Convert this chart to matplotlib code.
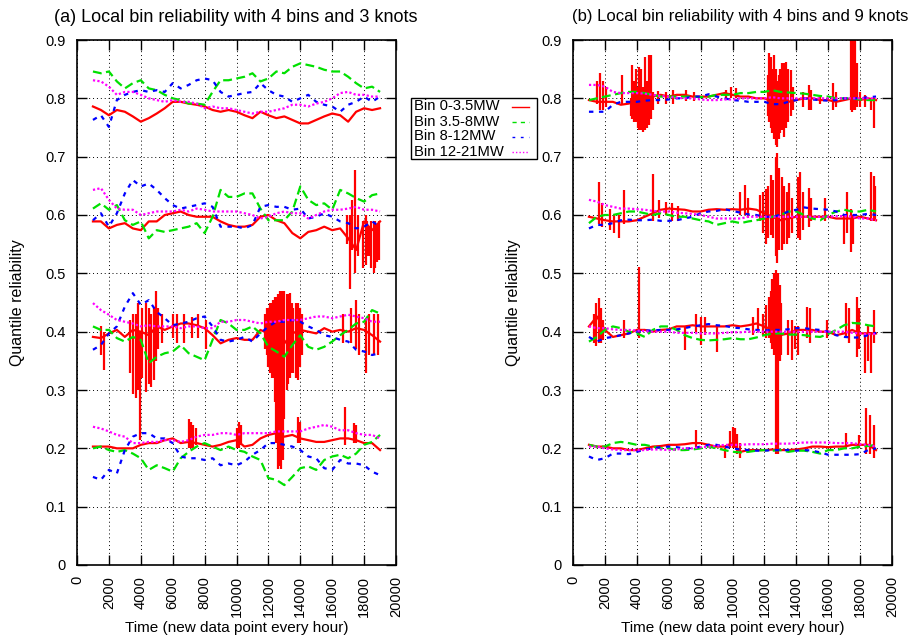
import numpy as np
import matplotlib
matplotlib.use("Agg")
import matplotlib.pyplot as plt
from matplotlib.lines import Line2D
from matplotlib.patches import Rectangle

plt.rcParams['font.family'] = ['Liberation Sans', 'DejaVu Sans']
plt.rcParams['font.size'] = 10.5

# sample times (hours) for the running reliability curves
hours = np.arange(1000, 19001, 500)

# ---- panel (a): 4 bins, 3 knots ----
a_red_80 = [0.786, 0.780, 0.771, 0.780, 0.777, 0.769, 0.760, 0.766, 0.774, 0.783, 0.794, 0.794, 0.791, 0.789, 0.786, 0.780, 0.777, 0.780, 0.777, 0.771, 0.766, 0.777, 0.771, 0.766, 0.769, 0.763, 0.757, 0.757, 0.763, 0.769, 0.774, 0.771, 0.760, 0.777, 0.783, 0.780, 0.783]
a_grn_80 = [0.846, 0.843, 0.846, 0.829, 0.817, 0.826, 0.831, 0.817, 0.814, 0.806, 0.800, 0.797, 0.791, 0.791, 0.789, 0.811, 0.831, 0.831, 0.834, 0.837, 0.843, 0.829, 0.834, 0.846, 0.843, 0.854, 0.860, 0.857, 0.854, 0.849, 0.846, 0.846, 0.837, 0.826, 0.817, 0.820, 0.811]
a_blu_80 = [0.763, 0.771, 0.751, 0.797, 0.806, 0.811, 0.814, 0.811, 0.814, 0.811, 0.826, 0.817, 0.823, 0.831, 0.834, 0.831, 0.811, 0.803, 0.806, 0.809, 0.811, 0.826, 0.814, 0.806, 0.803, 0.794, 0.800, 0.806, 0.794, 0.789, 0.786, 0.777, 0.789, 0.794, 0.803, 0.794, 0.803]
a_mag_80 = [0.831, 0.829, 0.820, 0.806, 0.811, 0.811, 0.806, 0.800, 0.797, 0.794, 0.797, 0.794, 0.794, 0.791, 0.783, 0.786, 0.783, 0.783, 0.780, 0.777, 0.774, 0.777, 0.777, 0.780, 0.783, 0.789, 0.789, 0.786, 0.791, 0.794, 0.800, 0.809, 0.811, 0.806, 0.806, 0.803, 0.803]

a_red_60 = [0.589, 0.589, 0.577, 0.583, 0.586, 0.577, 0.574, 0.589, 0.589, 0.600, 0.603, 0.606, 0.600, 0.597, 0.597, 0.597, 0.589, 0.583, 0.580, 0.580, 0.583, 0.597, 0.600, 0.591, 0.586, 0.569, 0.560, 0.571, 0.574, 0.580, 0.574, 0.577, 0.560, 0.540, 0.589, 0.574, 0.589]
a_grn_60 = [0.611, 0.620, 0.609, 0.617, 0.591, 0.583, 0.589, 0.560, 0.574, 0.571, 0.574, 0.577, 0.580, 0.586, 0.569, 0.597, 0.643, 0.631, 0.631, 0.637, 0.637, 0.611, 0.591, 0.591, 0.591, 0.606, 0.649, 0.626, 0.617, 0.620, 0.609, 0.643, 0.637, 0.629, 0.623, 0.634, 0.637]
a_blu_60 = [0.591, 0.603, 0.580, 0.603, 0.637, 0.660, 0.649, 0.654, 0.643, 0.629, 0.617, 0.611, 0.614, 0.617, 0.620, 0.614, 0.580, 0.580, 0.580, 0.577, 0.583, 0.614, 0.617, 0.614, 0.614, 0.609, 0.611, 0.594, 0.597, 0.603, 0.597, 0.589, 0.586, 0.577, 0.580, 0.589, 0.580]
a_mag_60 = [0.643, 0.646, 0.626, 0.611, 0.609, 0.609, 0.600, 0.603, 0.606, 0.606, 0.606, 0.609, 0.606, 0.611, 0.609, 0.606, 0.606, 0.606, 0.606, 0.603, 0.600, 0.594, 0.597, 0.603, 0.606, 0.603, 0.603, 0.594, 0.600, 0.606, 0.609, 0.609, 0.611, 0.614, 0.609, 0.609, 0.606]

a_red_40 = [0.391, 0.389, 0.397, 0.403, 0.391, 0.403, 0.400, 0.394, 0.409, 0.403, 0.409, 0.414, 0.414, 0.411, 0.406, 0.394, 0.380, 0.386, 0.389, 0.386, 0.386, 0.403, 0.397, 0.389, 0.380, 0.397, 0.403, 0.400, 0.397, 0.406, 0.400, 0.403, 0.400, 0.406, 0.403, 0.394, 0.383]
a_grn_40 = [0.409, 0.403, 0.403, 0.389, 0.383, 0.391, 0.386, 0.346, 0.357, 0.363, 0.366, 0.377, 0.363, 0.357, 0.351, 0.386, 0.420, 0.414, 0.403, 0.403, 0.409, 0.397, 0.374, 0.366, 0.357, 0.377, 0.394, 0.374, 0.369, 0.374, 0.383, 0.394, 0.403, 0.414, 0.417, 0.437, 0.431]
a_blu_40 = [0.369, 0.377, 0.397, 0.409, 0.443, 0.466, 0.446, 0.454, 0.434, 0.423, 0.411, 0.414, 0.417, 0.423, 0.426, 0.409, 0.386, 0.383, 0.386, 0.391, 0.383, 0.397, 0.409, 0.417, 0.417, 0.420, 0.417, 0.409, 0.403, 0.394, 0.391, 0.386, 0.383, 0.369, 0.366, 0.360, 0.363]
a_mag_40 = [0.449, 0.437, 0.429, 0.420, 0.417, 0.414, 0.409, 0.411, 0.409, 0.409, 0.409, 0.406, 0.409, 0.409, 0.406, 0.406, 0.417, 0.417, 0.420, 0.420, 0.417, 0.414, 0.417, 0.417, 0.420, 0.420, 0.420, 0.423, 0.426, 0.426, 0.423, 0.426, 0.429, 0.426, 0.423, 0.417, 0.417]

a_red_20 = [0.203, 0.203, 0.203, 0.200, 0.200, 0.200, 0.206, 0.209, 0.209, 0.214, 0.217, 0.209, 0.211, 0.209, 0.206, 0.203, 0.206, 0.211, 0.214, 0.203, 0.206, 0.217, 0.223, 0.226, 0.220, 0.223, 0.217, 0.214, 0.211, 0.211, 0.214, 0.217, 0.217, 0.214, 0.209, 0.209, 0.197]
a_grn_20 = [0.200, 0.203, 0.197, 0.194, 0.197, 0.191, 0.183, 0.163, 0.171, 0.166, 0.160, 0.183, 0.194, 0.203, 0.209, 0.203, 0.197, 0.203, 0.197, 0.194, 0.186, 0.180, 0.149, 0.146, 0.137, 0.151, 0.166, 0.169, 0.163, 0.180, 0.186, 0.189, 0.183, 0.191, 0.206, 0.211, 0.223]
a_blu_20 = [0.151, 0.146, 0.163, 0.157, 0.197, 0.220, 0.226, 0.226, 0.217, 0.217, 0.209, 0.186, 0.183, 0.183, 0.180, 0.183, 0.171, 0.174, 0.171, 0.177, 0.189, 0.197, 0.209, 0.209, 0.206, 0.203, 0.197, 0.186, 0.183, 0.166, 0.163, 0.180, 0.174, 0.174, 0.171, 0.160, 0.154]
a_mag_20 = [0.237, 0.234, 0.229, 0.223, 0.220, 0.209, 0.209, 0.211, 0.211, 0.214, 0.214, 0.211, 0.214, 0.220, 0.223, 0.223, 0.226, 0.226, 0.223, 0.226, 0.226, 0.226, 0.226, 0.229, 0.229, 0.229, 0.229, 0.234, 0.237, 0.240, 0.237, 0.231, 0.231, 0.226, 0.223, 0.223, 0.217]

# bursts of the 0-3.5MW bin: hour, low, high
a_spk_h = [16900, 17100, 17250, 17400, 17600, 17900, 18100, 18200, 18300, 18450, 18600, 18700, 18800, 18950,
           1500, 1700, 3300, 3500, 3700, 3850, 3950, 4100, 4300, 4500, 4650, 4800, 4950, 5100, 5300,
           6000, 6300, 6700, 7200, 7600, 8100,
           11800, 11900, 12000, 12100, 12200, 12300, 12400, 12500, 12600, 12700, 12800, 12900, 13000,
           13150, 13250, 13350, 13450, 13560, 13700, 13880, 14000, 14100,
           16700, 17200, 17500, 17700, 18100, 18300, 18600, 18900,
           7000, 7150, 7300, 7450, 10000, 10150, 10300, 13850, 13950, 16800, 17350, 17500]
a_spk_lo = [0.55, 0.474, 0.54, 0.50, 0.53, 0.51, 0.514, 0.53, 0.53, 0.51, 0.50, 0.51, 0.52, 0.523,
            0.36, 0.334, 0.33, 0.294, 0.286, 0.30, 0.214, 0.32, 0.297, 0.31, 0.306, 0.317, 0.35, 0.37, 0.38,
            0.39, 0.38, 0.38, 0.39, 0.39, 0.37,
            0.37, 0.36, 0.34, 0.33, 0.32, 0.32, 0.28, 0.21, 0.165, 0.17, 0.165, 0.18, 0.25,
            0.30, 0.31, 0.32, 0.33, 0.33, 0.32, 0.317, 0.34, 0.36,
            0.38, 0.38, 0.37, 0.36, 0.33, 0.36, 0.36, 0.36,
            0.20, 0.20, 0.20, 0.205, 0.20, 0.20, 0.205, 0.21, 0.21, 0.205, 0.21, 0.21]
a_spk_hi = [0.60, 0.60, 0.626, 0.677, 0.60, 0.59, 0.60, 0.59, 0.58, 0.59, 0.59, 0.59, 0.585, 0.59,
            0.41, 0.40, 0.42, 0.43, 0.43, 0.45, 0.40, 0.44, 0.45, 0.44, 0.43, 0.44, 0.469, 0.44, 0.43,
            0.43, 0.43, 0.43, 0.425, 0.43, 0.42,
            0.43, 0.44, 0.44, 0.45, 0.45, 0.455, 0.46, 0.46, 0.465, 0.47, 0.47, 0.47, 0.47,
            0.465, 0.465, 0.466, 0.45, 0.44, 0.45, 0.45, 0.44, 0.43,
            0.43, 0.44, 0.454, 0.43, 0.42, 0.43, 0.43, 0.43,
            0.25, 0.245, 0.24, 0.235, 0.235, 0.246, 0.24, 0.254, 0.245, 0.271, 0.243, 0.24]

# ---- panel (b): 4 bins, 9 knots ----
b_red_80 = [0.797, 0.794, 0.794, 0.794, 0.789, 0.791, 0.797, 0.800, 0.803, 0.806, 0.803, 0.806, 0.806, 0.803, 0.803, 0.803, 0.806, 0.809, 0.806, 0.803, 0.803, 0.800, 0.800, 0.794, 0.786, 0.794, 0.797, 0.800, 0.800, 0.797, 0.797, 0.794, 0.797, 0.800, 0.797, 0.800, 0.797]
b_grn_80 = [0.797, 0.800, 0.803, 0.806, 0.809, 0.811, 0.811, 0.809, 0.806, 0.803, 0.803, 0.803, 0.803, 0.803, 0.802, 0.803, 0.806, 0.806, 0.806, 0.809, 0.809, 0.811, 0.811, 0.814, 0.811, 0.810, 0.809, 0.808, 0.806, 0.804, 0.803, 0.800, 0.800, 0.800, 0.798, 0.797, 0.797]
b_blu_80 = [0.777, 0.777, 0.777, 0.789, 0.794, 0.794, 0.794, 0.796, 0.797, 0.797, 0.798, 0.800, 0.800, 0.803, 0.803, 0.807, 0.803, 0.800, 0.797, 0.796, 0.794, 0.794, 0.794, 0.790, 0.790, 0.794, 0.797, 0.800, 0.798, 0.797, 0.796, 0.797, 0.800, 0.800, 0.800, 0.802, 0.803]
b_mag_80 = [0.823, 0.823, 0.820, 0.811, 0.809, 0.809, 0.809, 0.808, 0.806, 0.804, 0.803, 0.801, 0.800, 0.800, 0.798, 0.797, 0.797, 0.798, 0.798, 0.800, 0.800, 0.800, 0.800, 0.802, 0.800, 0.800, 0.800, 0.800, 0.800, 0.800, 0.800, 0.800, 0.800, 0.800, 0.800, 0.800, 0.800]

b_red_60 = [0.597, 0.594, 0.591, 0.589, 0.589, 0.589, 0.591, 0.597, 0.603, 0.609, 0.611, 0.610, 0.609, 0.606, 0.606, 0.609, 0.610, 0.609, 0.610, 0.609, 0.611, 0.609, 0.603, 0.597, 0.591, 0.594, 0.597, 0.597, 0.597, 0.597, 0.597, 0.594, 0.594, 0.594, 0.597, 0.594, 0.591]
b_grn_60 = [0.586, 0.597, 0.600, 0.600, 0.603, 0.606, 0.606, 0.603, 0.600, 0.603, 0.600, 0.597, 0.597, 0.594, 0.591, 0.589, 0.583, 0.586, 0.589, 0.586, 0.589, 0.591, 0.594, 0.597, 0.600, 0.606, 0.606, 0.600, 0.594, 0.591, 0.600, 0.606, 0.609, 0.606, 0.606, 0.609, 0.606]
b_blu_60 = [0.577, 0.583, 0.583, 0.586, 0.591, 0.592, 0.591, 0.591, 0.592, 0.590, 0.590, 0.591, 0.594, 0.597, 0.603, 0.606, 0.607, 0.610, 0.607, 0.604, 0.601, 0.600, 0.597, 0.597, 0.600, 0.606, 0.609, 0.613, 0.611, 0.610, 0.609, 0.606, 0.600, 0.600, 0.600, 0.602, 0.600]
b_mag_60 = [0.626, 0.623, 0.617, 0.614, 0.611, 0.611, 0.610, 0.609, 0.607, 0.606, 0.606, 0.604, 0.603, 0.602, 0.600, 0.597, 0.594, 0.594, 0.594, 0.594, 0.597, 0.597, 0.597, 0.597, 0.597, 0.597, 0.597, 0.597, 0.597, 0.597, 0.597, 0.598, 0.598, 0.597, 0.594, 0.594, 0.591]

b_red_40 = [0.409, 0.426, 0.403, 0.391, 0.394, 0.397, 0.403, 0.403, 0.400, 0.403, 0.404, 0.409, 0.409, 0.411, 0.409, 0.409, 0.409, 0.409, 0.411, 0.409, 0.411, 0.414, 0.409, 0.403, 0.394, 0.397, 0.403, 0.403, 0.403, 0.400, 0.400, 0.394, 0.397, 0.403, 0.397, 0.397, 0.397]
b_grn_40 = [0.383, 0.391, 0.403, 0.409, 0.406, 0.400, 0.397, 0.391, 0.403, 0.409, 0.409, 0.403, 0.394, 0.389, 0.386, 0.385, 0.386, 0.387, 0.389, 0.387, 0.387, 0.390, 0.394, 0.397, 0.397, 0.395, 0.395, 0.394, 0.392, 0.391, 0.396, 0.403, 0.411, 0.415, 0.414, 0.411, 0.409]
b_blu_40 = [0.391, 0.383, 0.389, 0.391, 0.394, 0.397, 0.400, 0.402, 0.402, 0.403, 0.403, 0.404, 0.406, 0.409, 0.411, 0.413, 0.411, 0.410, 0.407, 0.406, 0.404, 0.403, 0.402, 0.403, 0.403, 0.404, 0.406, 0.406, 0.404, 0.403, 0.400, 0.394, 0.391, 0.390, 0.390, 0.394, 0.398]
b_mag_40 = [0.409, 0.406, 0.406, 0.404, 0.403, 0.403, 0.402, 0.401, 0.400, 0.400, 0.400, 0.398, 0.398, 0.398, 0.397, 0.397, 0.397, 0.398, 0.399, 0.399, 0.400, 0.400, 0.400, 0.400, 0.400, 0.400, 0.400, 0.400, 0.400, 0.400, 0.400, 0.400, 0.400, 0.398, 0.397, 0.396, 0.396]

b_red_20 = [0.206, 0.203, 0.203, 0.200, 0.200, 0.197, 0.197, 0.200, 0.203, 0.204, 0.206, 0.206, 0.207, 0.209, 0.209, 0.206, 0.203, 0.203, 0.209, 0.194, 0.197, 0.197, 0.197, 0.198, 0.197, 0.197, 0.198, 0.200, 0.203, 0.203, 0.202, 0.203, 0.203, 0.206, 0.206, 0.206, 0.197]
b_grn_20 = [0.206, 0.203, 0.203, 0.209, 0.211, 0.209, 0.206, 0.206, 0.203, 0.200, 0.200, 0.197, 0.197, 0.198, 0.200, 0.203, 0.200, 0.197, 0.194, 0.193, 0.194, 0.196, 0.197, 0.196, 0.197, 0.194, 0.196, 0.196, 0.194, 0.191, 0.197, 0.197, 0.200, 0.200, 0.203, 0.204, 0.206]
b_blu_20 = [0.186, 0.180, 0.183, 0.191, 0.191, 0.190, 0.194, 0.198, 0.200, 0.202, 0.203, 0.202, 0.200, 0.200, 0.203, 0.206, 0.206, 0.203, 0.200, 0.198, 0.197, 0.196, 0.196, 0.197, 0.197, 0.197, 0.196, 0.197, 0.196, 0.193, 0.189, 0.189, 0.189, 0.189, 0.190, 0.197, 0.200]
b_mag_20 = [0.203, 0.203, 0.200, 0.198, 0.197, 0.197, 0.197, 0.197, 0.198, 0.198, 0.197, 0.198, 0.200, 0.200, 0.202, 0.203, 0.204, 0.206, 0.206, 0.206, 0.207, 0.207, 0.207, 0.208, 0.208, 0.208, 0.209, 0.210, 0.210, 0.210, 0.210, 0.209, 0.209, 0.209, 0.207, 0.206, 0.203]

b_spk_h = [1500, 1700, 1900, 2100, 3100,
           3650, 3700, 3800, 3950, 4050, 4150, 4280, 4400, 4530, 4650, 4780, 4900, 5000,
           5300, 5800, 6300, 7100, 7600, 9600, 9900, 10200,
           12200, 12300, 12400, 12500, 12600, 12700, 12800, 12900, 13000, 13100, 13200, 13330, 13450, 13650, 13800,
           14400, 14800, 14900, 15500, 16300, 16500,
           17400, 17500, 17600, 17700, 17800, 18000, 18300, 18700, 18900,
           1600, 1800, 2300, 2600, 2900, 3170, 5000, 5400, 5800, 6200, 6600,
           10500, 10800, 11000, 11700, 11900, 12100, 12250, 12400, 12550, 12700, 12800, 12900,
           13100, 13200, 13400, 13550, 13700, 14100, 14250, 14400, 14800, 14950, 15800,
           17000, 17150, 17450, 17550, 18700, 18850, 18950,
           1300, 1450, 1600, 1750, 1900, 3200, 4150, 7000, 7700, 8000, 8300, 9000,
           11300, 11600, 11900, 12100, 12300, 12400, 12500, 12600, 12750, 12850, 12950, 13050,
           13500, 13700, 13900, 14100, 14700, 14850, 15900, 17100, 17300, 17800, 17900,
           18300, 18500, 18700, 18900,
           7700, 9500, 9850, 10000, 10150, 10300, 10450, 17100, 17900, 18400, 18600, 18900]
b_spk_lo = [0.79, 0.78, 0.78, 0.785, 0.79,
            0.77, 0.765, 0.76, 0.76, 0.75, 0.745, 0.745, 0.743, 0.745, 0.75, 0.755, 0.765, 0.78,
            0.79, 0.79, 0.79, 0.795, 0.795, 0.80, 0.80, 0.80,
            0.77, 0.76, 0.75, 0.74, 0.73, 0.72, 0.717, 0.73, 0.74, 0.745, 0.734, 0.75, 0.76, 0.77, 0.78,
            0.785, 0.78, 0.78, 0.79, 0.78, 0.785,
            0.78, 0.777, 0.78, 0.78, 0.785, 0.785, 0.785, 0.78, 0.749,
            0.585, 0.58, 0.575, 0.57, 0.56, 0.585, 0.59, 0.595, 0.60, 0.59, 0.59,
            0.60, 0.60, 0.595, 0.59, 0.57, 0.55, 0.56, 0.565, 0.56, 0.53, 0.517, 0.54,
            0.54, 0.55, 0.55, 0.56, 0.57, 0.56, 0.557, 0.575, 0.58, 0.59, 0.59,
            0.55, 0.57, 0.537, 0.55, 0.59, 0.59, 0.59,
            0.38, 0.375, 0.38, 0.38, 0.385, 0.39, 0.39, 0.369, 0.40, 0.377, 0.395, 0.366,
            0.395, 0.40, 0.395, 0.39, 0.39, 0.38, 0.37, 0.36, 0.19, 0.19, 0.35, 0.36,
            0.36, 0.351, 0.37, 0.36, 0.39, 0.38, 0.39, 0.39, 0.38, 0.357, 0.37,
            0.329, 0.35, 0.329, 0.38,
            0.20, 0.183, 0.20, 0.20, 0.20, 0.19, 0.183, 0.20, 0.20, 0.19, 0.19, 0.183]
b_spk_hi = [0.83, 0.843, 0.83, 0.82, 0.84,
            0.80, 0.857, 0.83, 0.851, 0.82, 0.854, 0.851, 0.82, 0.871, 0.83, 0.874, 0.874, 0.81,
            0.812, 0.81, 0.815, 0.814, 0.81, 0.815, 0.82, 0.818,
            0.84, 0.877, 0.87, 0.85, 0.874, 0.85, 0.83, 0.84, 0.85, 0.86, 0.86, 0.863, 0.85, 0.849, 0.82,
            0.81, 0.823, 0.815, 0.805, 0.826, 0.81,
            0.92, 0.92, 0.92, 0.92, 0.86, 0.81, 0.805, 0.80, 0.80,
            0.657, 0.62, 0.61, 0.60, 0.60, 0.643, 0.671, 0.625, 0.623, 0.62, 0.615,
            0.64, 0.651, 0.63, 0.635, 0.64, 0.645, 0.65, 0.669, 0.66, 0.70, 0.706, 0.68,
            0.665, 0.65, 0.64, 0.655, 0.63, 0.665, 0.674, 0.64, 0.646, 0.63, 0.63,
            0.60, 0.64, 0.61, 0.60, 0.674, 0.666, 0.65,
            0.43, 0.45, 0.457, 0.44, 0.42, 0.42, 0.511, 0.41, 0.43, 0.425, 0.425, 0.41,
            0.425, 0.44, 0.43, 0.445, 0.46, 0.47, 0.49, 0.50, 0.505, 0.50, 0.48, 0.45,
            0.42, 0.42, 0.41, 0.41, 0.443, 0.44, 0.42, 0.449, 0.44, 0.46, 0.44,
            0.40, 0.41, 0.40, 0.437,
            0.231, 0.20, 0.23, 0.237, 0.235, 0.225, 0.21, 0.226, 0.223, 0.269, 0.257, 0.24]

bin_labels = ["Bin 0-3.5MW", "Bin 3.5-8MW", "Bin 8-12MW", "Bin 12-21MW"]
colors = ["#ff0000", "#00e000", "#0000ff", "#ff00ff"]
dashes = [None, (4, 2), (2, 2.5), (1, 1)]
key_dashes = [None, (3, 3), (2, 4), (1, 1.5)]

panels = [
    dict(title="(a) Local bin reliability with 4 bins and 3 knots", left=77,
         tx=236, ha="center", tsize=13,
         series=[[a_red_20, a_red_40, a_red_60, a_red_80],
                 [a_grn_20, a_grn_40, a_grn_60, a_grn_80],
                 [a_blu_20, a_blu_40, a_blu_60, a_blu_80],
                 [a_mag_20, a_mag_40, a_mag_60, a_mag_80]],
         spikes=(a_spk_h, a_spk_lo, a_spk_hi)),
    dict(title="(b) Local bin reliability with 4 bins and 9 knots", left=573,
         tx=908, ha="right", tsize=12,
         series=[[b_red_20, b_red_40, b_red_60, b_red_80],
                 [b_grn_20, b_grn_40, b_grn_60, b_grn_80],
                 [b_blu_20, b_blu_40, b_blu_60, b_blu_80],
                 [b_mag_20, b_mag_40, b_mag_60, b_mag_80]],
         spikes=(b_spk_h, b_spk_lo, b_spk_hi)),
]

W, H = 914, 642
fig = plt.figure(figsize=(W / 100, H / 100), dpi=100)


def fx(px):
    return px / W


def fy(px):
    return 1 - px / H


for p in panels:
    ax = fig.add_axes([fx(p["left"]), fy(565), 319 / W, 525 / H])
    for k, (col, ds) in enumerate(zip(colors, dashes)):
        if k == 0:
            h, lo, hi = p["spikes"]
            ax.vlines(h, lo, hi, color=col, lw=1.6, zorder=2)
        for vals in p["series"][k]:
            ln, = ax.plot(hours, vals, color=col, lw=1.6, zorder=2 + k)
            if ds is not None:
                ln.set_dashes(ds)
    ax.set_xlim(0, 20000)
    ax.set_ylim(0, 0.9)
    ax.set_xticks(np.arange(0, 20001, 2000))
    ax.set_yticks(np.arange(0, 0.91, 0.1))
    ax.set_yticklabels(["0"] + ["%.1f" % v for v in np.arange(0.1, 0.91, 0.1)])
    ax.tick_params(axis="x", labelrotation=90, pad=8)
    ax.tick_params(axis="y", pad=8)
    ax.tick_params(direction="in", length=7, width=1, top=True, right=True, colors="black")
    ax.grid(True, color="black", lw=0.7, linestyle=(0, (1, 3)))
    ax.set_axisbelow(True)
    for s in ax.spines.values():
        s.set_linewidth(1.2)
    ax.set_xlabel("Time (new data point every hour)", fontsize=11, labelpad=3)
    ax.set_ylabel("Quantile reliability", fontsize=11.5, labelpad=15)
    fig.text(fx(p["tx"]), fy(17), p["title"], ha=p["ha"], va="center", fontsize=p["tsize"])

# key box sitting between the two panels
fig.add_artist(Rectangle((fx(411), fy(159)), 126 / W, 61 / H, transform=fig.transFigure,
                         facecolor="white", edgecolor="black", lw=1.0, zorder=10))
for i, (lab, col, kd) in enumerate(zip(bin_labels, colors, key_dashes)):
    yc = fy(106.5 + 15 * i)
    fig.text(fx(414), yc, lab, ha="left", va="center", fontsize=10.6, zorder=11)
    key = Line2D([fx(512), fx(529)], [yc, yc], transform=fig.transFigure, color=col, lw=1.0, zorder=11)
    if kd is not None:
        key.set_dashes(kd)
    fig.add_artist(key)

fig.savefig("out.png", dpi=100)
